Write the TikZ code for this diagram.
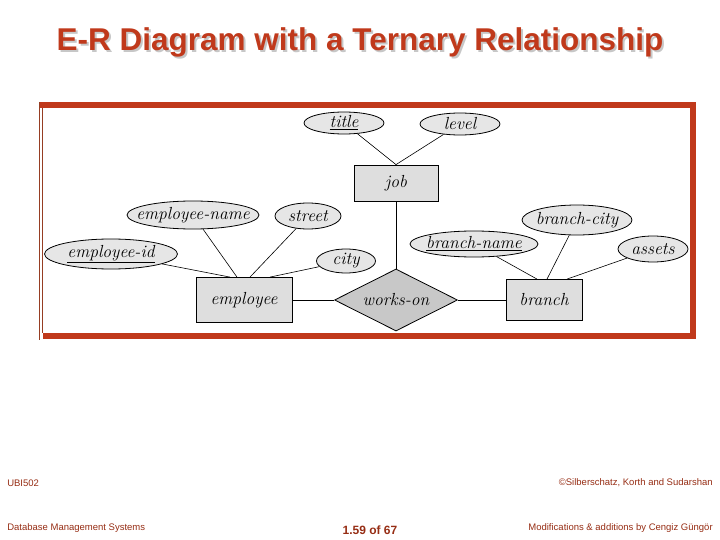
\documentclass[tikz,border=0pt]{standalone}
\usepackage{fontspec}
\newfontfamily\slidefont{Liberation Sans}
\usetikzlibrary{shapes.geometric}
\definecolor{slidered}{RGB}{192,57,27}
\definecolor{framebrown}{RGB}{150,62,35}
\definecolor{footred}{RGB}{150,45,20}
\definecolor{entgray}{RGB}{222,222,222}
\definecolor{attrgray}{RGB}{230,230,230}
\definecolor{relgray}{RGB}{200,200,200}
\tikzset{
  erfont/.style={font=\fontsize{17.5}{19}\selectfont\itshape},
  entity/.style={draw, thick, fill=entgray, inner sep=0pt, erfont},
  attr/.style={ellipse, draw, thick, fill=attrgray, inner xsep=-10pt, inner ysep=-3pt, erfont},
  rel/.style={diamond, draw, thick, fill=relgray, inner sep=0pt, aspect=2, erfont},
  foot/.style={text=footred, font=\slidefont\fontsize{9.5}{10}\selectfont, inner sep=0pt},
}
\begin{document}
\begin{tikzpicture}[x=1pt, y=-1pt, semithick]
    \useasboundingbox (0,0) rectangle (720,540);
    % Title, with its shadow
    \node[text=black!22, font=\slidefont\bfseries\fontsize{31.5}{34}\selectfont] at (362,44) {E-R Diagram with a Ternary Relationship};
    \node[text=slidered, font=\slidefont\bfseries\fontsize{31.5}{34}\selectfont] (heading) at (360,42) {E-R Diagram with a Ternary Relationship};

    % Frame
    \draw[slidered, line width=6pt] (39,105) -- (693,105) -- (693,336) -- (43,336);
    \draw[framebrown, line width=1.5pt] (39.5,102) -- (39.5,340);
    \draw[framebrown, line width=1.5pt] (42.5,108) -- (42.5,333);

    % Entities and relationship
    \node[entity, minimum width=84, minimum height=36] (job) at (396,183) {job};
    \node[entity, minimum width=96, minimum height=45] (employee) at (244,300) {employee};
    \node[entity, minimum width=76, minimum height=41] (branch) at (544,300) {branch};
    \node[rel, minimum width=123, minimum height=62] (workson) at (396,300) {works-on};

    % Attributes
    \node[attr, minimum width=80, minimum height=22] (title) at (344,123) {\underline{title}};
    \node[attr, minimum width=80, minimum height=22] (level) at (460,124) {level};
    \node[attr, minimum width=132, minimum height=28] (empname) at (193,215) {employee-name};
    \node[attr, minimum width=66, minimum height=26] (street) at (308,216) {street};
    \node[attr, minimum width=133, minimum height=30] (empid) at (111,254) {\underline{employee-id}};
    \node[attr, minimum width=59, minimum height=24] (city) at (346,261) {city};
    \node[attr, minimum width=128, minimum height=26] (brname) at (474,244) {\underline{branch-name}};
    \node[attr, minimum width=110, minimum height=30] (brcity) at (577,220) {branch-city};
    \node[attr, minimum width=70, minimum height=26] (assets) at (653,249) {assets};

    % Connectors
    \draw (title) -- (job.north);
    \draw (level) -- (job.north);
    \draw (job) -- (workson);
    \draw (employee) -- (workson);
    \draw (workson) -- (branch);
    \draw (empid) -- ([xshift=-14]employee.north);
    \draw (empname) -- ([xshift=-7]employee.north);
    \draw (street) -- ([xshift=6]employee.north);
    \draw (city) -- ([xshift=26]employee.north);
    \draw (brname) -- ([xshift=-7]branch.north);
    \draw (brcity) -- ([xshift=3]branch.north);
    \draw (assets) -- ([xshift=23]branch.north);

    % Footer
    \node[foot, anchor=west] (course) at (7,483) {UBI502};
    \node[foot, anchor=west] (subject) at (7,528) {Database Management Systems};
    \node[foot, anchor=east] (copy) at (713,483) {©Silberschatz, Korth and Sudarshan};
    \node[foot, anchor=east] (mods) at (713,528) {Modifications \& additions by Cengiz Güngör};
    \node[text=footred, font=\slidefont\bfseries\fontsize{12}{13}\selectfont] (page) at (370,530) {1.59 of 67};
\end{tikzpicture}
\end{document}
